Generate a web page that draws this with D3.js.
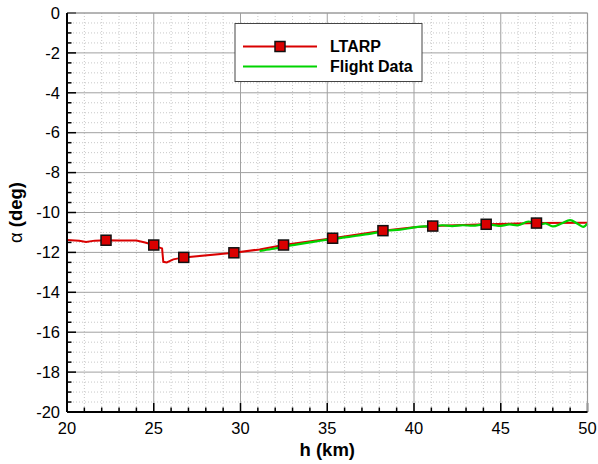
<!DOCTYPE html>
<html>
<head>
<meta charset="utf-8">
<script src="https://cdn.jsdelivr.net/npm/d3@7"></script>
<style>
  body { margin: 0; background: #fff; }
  svg { display: block; font-family: "Liberation Sans", Arial, sans-serif; }
</style>
</head>
<body>
<svg id="chart" width="598" height="464"></svg>
<script>
// LTARP trajectory: altitude (km) vs angle of attack (deg)
const ltarpH     = [20, 20.7, 21.1, 21.6, 22.25, 23.0, 24.0, 24.5, 25.0, 25.3, 25.48, 25.55, 25.75, 26.13, 26.73, 29.62, 31.1, 32.48, 35.31, 38.21, 40.0, 41.08, 44.16, 47.06, 50];
const ltarpAlpha = [-11.38, -11.42, -11.48, -11.41, -11.39, -11.4, -11.4, -11.5, -11.63, -11.75, -11.8, -12.47, -12.5, -12.35, -12.25, -12.02, -11.85, -11.63, -11.29, -10.91, -10.74, -10.68, -10.59, -10.53, -10.51];

// Symbol positions along the LTARP curve
const markerH     = [22.25, 25.0, 26.73, 29.62, 32.48, 35.31, 38.21, 41.08, 44.16, 47.06];
const markerAlpha = [-11.39, -11.63, -12.25, -12.02, -11.63, -11.29, -10.91, -10.68, -10.59, -10.53];

// Flight data
const flightH     = [31.1, 31.8, 32.5, 33.2, 34.0, 34.8, 35.3, 36.0, 36.5, 37.2, 38.0, 38.5, 39.2, 40.0, 40.6, 41.1, 41.6, 42.2, 42.8, 43.4, 44.0, 44.5, 45.0, 45.5, 46.0, 46.6, 47.2, 47.6, 48.0, 48.5, 49.0, 49.4, 49.75, 50];
const flightAlpha = [-11.93, -11.83, -11.71, -11.61, -11.5, -11.39, -11.34, -11.25, -11.19, -11.1, -10.98, -10.9, -10.86, -10.75, -10.7, -10.72, -10.64, -10.68, -10.64, -10.66, -10.6, -10.62, -10.67, -10.6, -10.64, -10.45, -10.6, -10.55, -10.7, -10.55, -10.38, -10.55, -10.72, -10.55];

const xTicks = [20, 25, 30, 35, 40, 45, 50];
const yTicks = [0, -2, -4, -6, -8, -10, -12, -14, -16, -18, -20];

const legendLabels = ["LTARP", "Flight Data"];
const seriesColors = ["#d90000", "#00d400"];

const svg = d3.select("#chart");
const plotL = 67, plotR = 587.5, plotT = 13, plotB = 412;

const x = d3.scaleLinear().domain([20, 50]).range([plotL, plotR]);
const y = d3.scaleLinear().domain([-20, 0]).range([plotB, plotT]);

// Grid: dotted minor, solid major
const grid = svg.append("g");
grid.selectAll(".vmin").data(d3.range(21, 50, 1).filter(v => v % 5 !== 0)).join("line")
  .attr("x1", d => x(d)).attr("x2", d => x(d)).attr("y1", plotT).attr("y2", plotB)
  .attr("stroke", "#c8c8c8").attr("stroke-width", 1).attr("stroke-dasharray", "1,2");
grid.selectAll(".hmin").data(d3.range(-19.5, 0, 0.5).filter(v => Math.abs(v % 2) > 1e-6)).join("line")
  .attr("x1", plotL).attr("x2", plotR).attr("y1", d => y(d)).attr("y2", d => y(d))
  .attr("stroke", "#c8c8c8").attr("stroke-width", 1).attr("stroke-dasharray", "1,2");
grid.selectAll(".vmaj").data(xTicks).join("line")
  .attr("x1", d => x(d)).attr("x2", d => x(d)).attr("y1", plotT).attr("y2", plotB)
  .attr("stroke", "#a0a0a0").attr("stroke-width", 1);
grid.selectAll(".hmaj").data(yTicks).join("line")
  .attr("x1", plotL).attr("x2", plotR).attr("y1", d => y(d)).attr("y2", d => y(d))
  .attr("stroke", "#a0a0a0").attr("stroke-width", 1);

// Curves
const line = d3.line().x(d => x(d[0])).y(d => y(d[1]));
const smooth = d3.line().x(d => x(d[0])).y(d => y(d[1])).curve(d3.curveCatmullRom.alpha(0.5));
svg.append("path").datum(d3.zip(ltarpH, ltarpAlpha))
  .attr("d", line).attr("fill", "none").attr("stroke", seriesColors[0]).attr("stroke-width", 2);
svg.append("path").datum(d3.zip(flightH, flightAlpha))
  .attr("d", smooth).attr("fill", "none").attr("stroke", seriesColors[1]).attr("stroke-width", 2.2);

const ms = 10;
svg.append("g").selectAll("rect").data(d3.zip(markerH, markerAlpha)).join("rect")
  .attr("x", d => x(d[0]) - ms / 2).attr("y", d => y(d[1]) - ms / 2)
  .attr("width", ms).attr("height", ms)
  .attr("fill", seriesColors[0]).attr("stroke", "#111").attr("stroke-width", 1.5);

// Axes with inward ticks
const ax = svg.append("g").attr("transform", `translate(0,${plotB})`);
ax.selectAll("line.t").data(d3.range(20, 51, 1)).join("line")
  .attr("x1", d => x(d)).attr("x2", d => x(d))
  .attr("y1", 0).attr("y2", d => d % 5 === 0 ? -9 : -4.5)
  .attr("stroke", "#000").attr("stroke-width", 1.5);
ax.selectAll("text").data(xTicks).join("text")
  .attr("x", d => x(d)).attr("y", 22).attr("text-anchor", "middle")
  .attr("font-size", 16.5).attr("fill", "#000").text(d => d);

const ay = svg.append("g").attr("transform", `translate(${plotL},0)`);
ay.selectAll("line.t").data(d3.range(-20, 0.01, 0.5)).join("line")
  .attr("x1", 0).attr("x2", d => Math.abs(d % 2) < 1e-6 ? 9 : 4.5)
  .attr("y1", d => y(d)).attr("y2", d => y(d))
  .attr("stroke", "#000").attr("stroke-width", 1.5);
ay.selectAll("text").data(yTicks).join("text")
  .attr("x", -7).attr("y", d => y(d)).attr("dy", "0.35em").attr("text-anchor", "end")
  .attr("font-size", 16.5).attr("fill", "#000").text(d => d);

// Frame
svg.append("line").attr("x1", plotL).attr("x2", plotR).attr("y1", plotT).attr("y2", plotT)
  .attr("stroke", "#999").attr("stroke-width", 1.2);
svg.append("line").attr("x1", plotR).attr("x2", plotR).attr("y1", plotT).attr("y2", plotB)
  .attr("stroke", "#999").attr("stroke-width", 1.2);
svg.append("line").attr("x1", plotL).attr("x2", plotL).attr("y1", plotT).attr("y2", plotB)
  .attr("stroke", "#000").attr("stroke-width", 2);
svg.append("line").attr("x1", plotL).attr("x2", plotR).attr("y1", plotB).attr("y2", plotB)
  .attr("stroke", "#000").attr("stroke-width", 2);

// Axis titles
svg.append("text").attr("x", (plotL + plotR) / 2).attr("y", 456).attr("text-anchor", "middle")
  .attr("font-size", 18.5).attr("font-weight", "bold").text("h (km)");
const yt = svg.append("text").attr("transform", `translate(22,${(plotT + plotB) / 2}) rotate(-90)`)
  .attr("text-anchor", "middle").attr("font-size", 18.5);
yt.append("tspan").text("α ");
yt.append("tspan").attr("font-weight", "bold").text("(deg)");

// Legend
const lg = svg.append("g");
lg.append("rect").attr("x", 235).attr("y", 23.5).attr("width", 187).attr("height", 58)
  .attr("fill", "#fff").attr("stroke", "#444").attr("stroke-width", 1);
const rows = [46.5, 66.5];
rows.forEach((ry, i) => {
  lg.append("line").attr("x1", 243).attr("x2", 317).attr("y1", ry).attr("y2", ry)
    .attr("stroke", seriesColors[i]).attr("stroke-width", 2);
  lg.append("text").attr("x", 330).attr("y", ry).attr("dy", "0.36em")
    .attr("font-size", 16).attr("font-weight", "bold").text(legendLabels[i]);
});
lg.append("rect").attr("x", 280 - ms / 2).attr("y", rows[0] - ms / 2).attr("width", ms).attr("height", ms)
  .attr("fill", seriesColors[0]).attr("stroke", "#111").attr("stroke-width", 1.5);
</script>
</body>
</html>
